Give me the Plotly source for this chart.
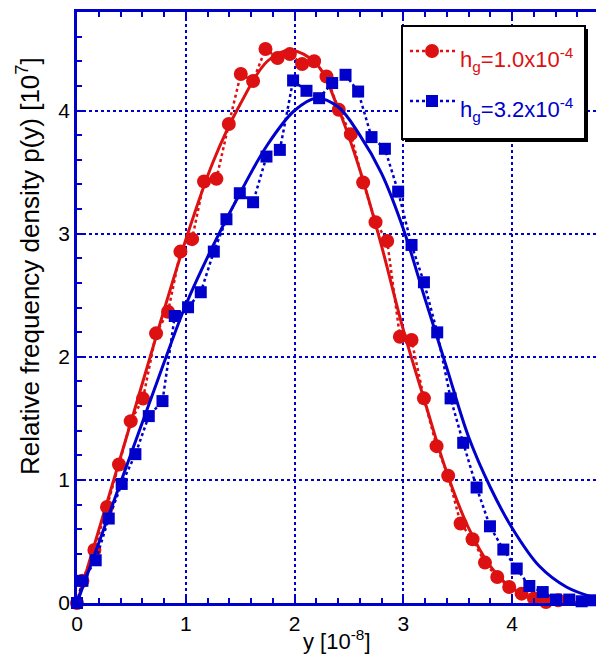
import plotly.graph_objects as go

# Measured relative frequency density, h_g = 1.0x10^-4
red_pos = [0.0, 0.05, 0.16, 0.276, 0.386, 0.494, 0.607, 0.727, 0.837, 0.951,
           1.058, 1.168, 1.282, 1.396, 1.506, 1.619, 1.733, 1.844, 1.957, 2.07,
           2.18, 2.294, 2.407, 2.518, 2.631, 2.745, 2.852, 2.969, 3.076, 3.19,
           3.306, 3.413, 3.527, 3.637, 3.751, 3.864, 3.974, 4.088, 4.201, 4.312, 4.425]
red_density = [0.0, 0.18, 0.43, 0.78, 1.125, 1.477, 1.66, 2.19, 2.366, 2.854,
               2.955, 3.423, 3.445, 3.89, 4.296, 4.24, 4.50, 4.426, 4.458, 4.377,
               4.40, 4.276, 4.006, 3.808, 3.415, 3.093, 2.94, 2.163, 2.136, 1.662,
               1.274, 1.034, 0.646, 0.518, 0.328, 0.211, 0.13, 0.076, 0.036, 0.008, 0.022]

# Measured relative frequency density, h_g = 3.2x10^-4
blue_pos = [0.0, 0.05, 0.172, 0.292, 0.411, 0.537, 0.66, 0.786, 0.899, 1.021,
            1.138, 1.258, 1.374, 1.497, 1.619, 1.742, 1.865, 1.987, 2.11, 2.226,
            2.346, 2.469, 2.585, 2.708, 2.831, 2.953, 3.076, 3.19, 3.312, 3.435,
            3.551, 3.674, 3.797, 3.92, 4.043, 4.159, 4.282, 4.404, 4.526, 4.64, 4.741]
blue_density = [0.0, 0.18, 0.347, 0.686, 0.967, 1.209, 1.518, 1.64, 2.331, 2.402,
                2.524, 2.854, 3.117, 3.328, 3.255, 3.626, 3.68, 4.244, 4.16, 4.10,
                4.223, 4.29, 4.154, 3.784, 3.689, 3.341, 2.908, 2.605, 2.198, 1.662,
                1.301, 0.938, 0.623, 0.434, 0.28, 0.138, 0.089, 0.028, 0.028, 0.014, 0.022]

# Fitted density curves
red_fit_pos = [0.0, 0.25, 0.5, 0.75, 1.0, 1.25, 1.5, 1.75, 1.96, 2.2, 2.4, 2.6,
               2.8, 3.0, 3.2, 3.4, 3.6, 3.8, 4.0, 4.2, 4.4, 4.6, 4.8]
red_fit_density = [0.0, 0.74, 1.48, 2.23, 2.95, 3.58, 4.05, 4.40, 4.49, 4.38, 4.02, 3.52,
                   2.90, 2.22, 1.63, 1.06, 0.61, 0.30, 0.12, 0.04, 0.01, 0.002, 0.0]
blue_fit_pos = [0.0, 0.25, 0.5, 0.75, 1.0, 1.25, 1.5, 1.75, 2.0, 2.2, 2.4, 2.6,
                2.8, 3.0, 3.2, 3.4, 3.6, 3.8, 4.0, 4.25, 4.5, 4.75, 4.8]
blue_fit_density = [0.0, 0.61, 1.22, 1.83, 2.42, 2.90, 3.33, 3.72, 4.00, 4.10, 4.03, 3.80,
                    3.49, 3.04, 2.47, 1.91, 1.35, 0.94, 0.61, 0.30, 0.13, 0.045, 0.035]

tick_vals = [0, 1, 2, 3, 4]
tick_text = ["0", "1", "2", "3", "4"]

series_labels = ["h<sub>g</sub>=1.0x10<sup>-4</sup>", "h<sub>g</sub>=3.2x10<sup>-4</sup>"]

RED = "#dd1111"
BLUE = "#0000cc"
FONT = "Liberation Sans, Arial, sans-serif"

# Page geometry (pixels) used to place the legend box
W, H = 596, 658
ML, MR, MT, MB = 77, 0, 12, 55
PW, PH = W - ML - MR, H - MT - MB


def px_x(p):
    return (p - ML) / PW


def px_y(p):
    return (H - MB - p) / PH


fig = go.Figure()

fig.add_trace(go.Scatter(
    x=red_pos, y=red_density, mode="lines+markers", name=series_labels[0],
    line=dict(color=RED, width=2.5, dash="dot"),
    marker=dict(symbol="circle", size=14, color=RED),
    cliponaxis=False,
))
fig.add_trace(go.Scatter(
    x=red_fit_pos, y=red_fit_density, mode="lines", showlegend=False,
    line=dict(color=RED, width=3, shape="spline", smoothing=1.0),
))
fig.add_trace(go.Scatter(
    x=blue_pos, y=blue_density, mode="lines+markers", name=series_labels[1],
    line=dict(color=BLUE, width=2.5, dash="dot"),
    marker=dict(symbol="square", size=12, color=BLUE),
    cliponaxis=False,
))
fig.add_trace(go.Scatter(
    x=blue_fit_pos, y=blue_fit_density, mode="lines", showlegend=False,
    line=dict(color=BLUE, width=3, shape="spline", smoothing=1.0),
))

axis_common = dict(
    showline=True, linecolor=BLUE, linewidth=2.5,
    showgrid=True, gridcolor=BLUE, gridwidth=2, griddash="dot",
    zeroline=False,
    ticks="inside", ticklen=7, tickwidth=2, tickcolor=BLUE,
    tickfont=dict(family=FONT, size=21, color="black"),
    minor=dict(dtick=0.2, ticks="inside", ticklen=5, tickwidth=2,
               tickcolor=BLUE, showgrid=False),
)

# Legend box drawn by hand: shadow, frame, dotted sample lines and symbols
shapes = [
    dict(type="rect", xref="paper", yref="paper",
         x0=px_x(405), x1=px_x(588), y0=px_y(142), y1=px_y(29),
         fillcolor="black", line=dict(width=0), layer="above"),
    dict(type="rect", xref="paper", yref="paper",
         x0=px_x(402), x1=px_x(585), y0=px_y(139), y1=px_y(26),
         fillcolor="white", line=dict(color="black", width=2), layer="above"),
]
annotations = []
legend_rows = [(RED, "circle", 51, 14, series_labels[0]),
               (BLUE, "rect", 101, 12, series_labels[1])]
for color, sym, yc, size, label in legend_rows:
    shapes.append(dict(type="line", xref="paper", yref="paper",
                       x0=px_x(410), x1=px_x(456), y0=px_y(yc), y1=px_y(yc),
                       line=dict(color=color, width=2.5, dash="dot"), layer="above"))
    shapes.append(dict(type=sym, xref="paper", yref="paper",
                       xsizemode="pixel", ysizemode="pixel",
                       xanchor=px_x(432), yanchor=px_y(yc),
                       x0=-size / 2, x1=size / 2, y0=-size / 2, y1=size / 2,
                       fillcolor=color, line=dict(width=0), layer="above"))
    annotations.append(dict(text=label, xref="paper", yref="paper",
                            x=px_x(458), y=px_y(yc + 8), xanchor="left", yanchor="middle",
                            showarrow=False,
                            font=dict(family=FONT, size=22, color=color)))

annotations += [
    dict(text="y [10<sup>-8</sup>]", xref="paper", yref="paper",
         x=0.50, y=px_y(640), xanchor="center", yanchor="middle", showarrow=False,
         font=dict(family=FONT, size=22, color="black")),
    dict(text="Relative frequency density p(y) [10<sup>7</sup>]", xref="paper", yref="paper",
         x=px_x(28), y=px_y(266), xanchor="center", yanchor="middle", textangle=-90,
         showarrow=False, font=dict(family=FONT, size=26, color="black")),
]

fig.update_layout(
    width=W, height=H,
    margin=dict(l=ML, r=MR, t=MT, b=MB),
    paper_bgcolor="white", plot_bgcolor="white",
    showlegend=False,
    xaxis=dict(range=[0, 4.772], tickvals=tick_vals, ticktext=tick_text,
               mirror="ticks", **axis_common),
    yaxis=dict(range=[0, 4.80], tickvals=tick_vals, ticktext=tick_text,
               mirror=False, **axis_common),
    yaxis2=dict(overlaying="y", side="right", anchor="x", range=[0, 4.80],
                showline=False, showgrid=False, zeroline=False, showticklabels=False,
                tickvals=tick_vals, ticks="inside", ticklen=7, tickwidth=2, tickcolor=BLUE,
                minor=dict(dtick=0.2, ticks="inside", ticklen=5, tickwidth=2, tickcolor=BLUE)),
    shapes=shapes,
    annotations=annotations,
)

fig.write_html("out.html")
